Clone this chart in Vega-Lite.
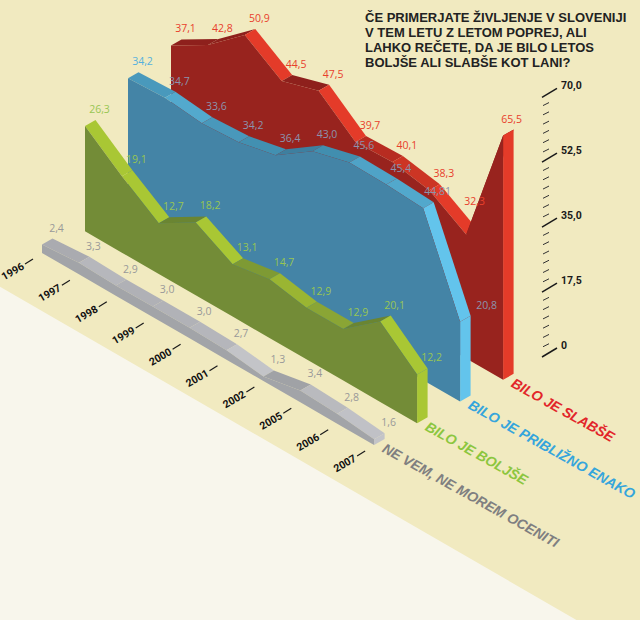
{
"$schema":"https://vega.github.io/schema/vega-lite/v6.json",
"width":640,"height":620,"padding":0,
"autosize":{"type":"fit","contains":"padding"},
"background":"#f1eac0",
"config":{"view":{"stroke":null}},
"datasets":{
"rows":[
{"series":"gray","s":0,"idx":0,"year":1996,"value":2.4,"label":"2,4"},{"series":"gray","s":0,"idx":1,"year":1997,"value":3.3,"label":"3,3"},{"series":"gray","s":0,"idx":2,"year":1998,"value":2.9,"label":"2,9"},{"series":"gray","s":0,"idx":3,"year":1999,"value":3.0,"label":"3,0"},{"series":"gray","s":0,"idx":4,"year":2000,"value":3.0,"label":"3,0"},{"series":"gray","s":0,"idx":5,"year":2001,"value":2.7,"label":"2,7"},{"series":"gray","s":0,"idx":6,"year":2002,"value":1.3,"label":"1,3"},{"series":"gray","s":0,"idx":7,"year":2005,"value":3.4,"label":"3,4"},{"series":"gray","s":0,"idx":8,"year":2006,"value":2.8,"label":"2,8"},{"series":"gray","s":0,"idx":9,"year":2007,"value":1.6,"label":"1,6"},
{"series":"green","s":1,"idx":0,"year":1996,"value":26.3,"label":"26,3"},{"series":"green","s":1,"idx":1,"year":1997,"value":19.1,"label":"19,1"},{"series":"green","s":1,"idx":2,"year":1998,"value":12.7,"label":"12,7"},{"series":"green","s":1,"idx":3,"year":1999,"value":18.2,"label":"18,2"},{"series":"green","s":1,"idx":4,"year":2000,"value":13.1,"label":"13,1"},{"series":"green","s":1,"idx":5,"year":2001,"value":14.7,"label":"14,7"},{"series":"green","s":1,"idx":6,"year":2002,"value":12.9,"label":"12,9"},{"series":"green","s":1,"idx":7,"year":2005,"value":12.9,"label":"12,9"},{"series":"green","s":1,"idx":8,"year":2006,"value":20.1,"label":"20,1"},{"series":"green","s":1,"idx":9,"year":2007,"value":12.2,"label":"12,2"},
{"series":"blue","s":2,"idx":0,"year":1996,"value":34.2,"label":"34,2"},{"series":"blue","s":2,"idx":1,"year":1997,"value":34.7,"label":"34,7"},{"series":"blue","s":2,"idx":2,"year":1998,"value":33.6,"label":"33,6"},{"series":"blue","s":2,"idx":3,"year":1999,"value":34.2,"label":"34,2"},{"series":"blue","s":2,"idx":4,"year":2000,"value":36.4,"label":"36,4"},{"series":"blue","s":2,"idx":5,"year":2001,"value":43.0,"label":"43,0"},{"series":"blue","s":2,"idx":6,"year":2002,"value":45.6,"label":"45,6"},{"series":"blue","s":2,"idx":7,"year":2005,"value":45.4,"label":"45,4"},{"series":"blue","s":2,"idx":8,"year":2006,"value":44.81,"label":"44,81"},{"series":"blue","s":2,"idx":9,"year":2007,"value":20.8,"label":"20,8"},
{"series":"red","s":3,"idx":0,"year":1996,"value":37.1,"label":"37,1"},{"series":"red","s":3,"idx":1,"year":1997,"value":42.8,"label":"42,8"},{"series":"red","s":3,"idx":2,"year":1998,"value":50.9,"label":"50,9"},{"series":"red","s":3,"idx":3,"year":1999,"value":44.5,"label":"44,5"},{"series":"red","s":3,"idx":4,"year":2000,"value":47.5,"label":"47,5"},{"series":"red","s":3,"idx":5,"year":2001,"value":39.7,"label":"39,7"},{"series":"red","s":3,"idx":6,"year":2002,"value":40.1,"label":"40,1"},{"series":"red","s":3,"idx":7,"year":2005,"value":38.3,"label":"38,3"},{"series":"red","s":3,"idx":8,"year":2006,"value":32.3,"label":"32,3"},{"series":"red","s":3,"idx":9,"year":2007,"value":65.5,"label":"65,5"}
]},
"data":{"name":"rows"},
"transform":[
{"window":[{"op":"lead","field":"value","as":"next"}],"groupby":["series"],"sort":[{"field":"idx","order":"ascending"}]},
{"calculate":"datum.s==1?4:datum.s==0?3.5:(datum.s==3&&datum.idx==9)?3.73:3.84","as":"k"},
{"calculate":"42+43*datum.s+36.9*datum.idx","as":"bx"},
{"calculate":"253-21.7*datum.s+21.33*datum.idx","as":"by"},
{"calculate":"datum.by-datum.k*datum.value","as":"py"},
{"calculate":"isValid(datum.next)?datum.bx+36.9:datum.bx","as":"nx"},
{"calculate":"isValid(datum.next)?datum.by+21.33-(datum.s==3&&datum.idx==8?3.73:datum.k)*datum.next:datum.by","as":"ny"},
{"calculate":"isValid(datum.next)?datum.next-datum.value:-datum.value","as":"d"},
{"calculate":"[0,1,2,3]","as":"c"},
{"flatten":["c"]},
{"calculate":"datum.c==0?datum.bx:datum.c==1?datum.bx+10.5:datum.c==2?datum.nx+10.5:datum.nx","as":"cx"},
{"calculate":"datum.c==0?datum.py:datum.c==1?datum.py-6:datum.c==2?datum.ny-6:datum.ny","as":"cy"}
],
"resolve":{"scale":{"fill":"independent","color":"independent"}},
"layer":[
{"data":{"values":[{"idx":0},{"idx":16.5}]},
 "transform":[{"calculate":"-11.75+36.9*datum.idx","as":"fx"},{"calculate":"280+21.33*datum.idx","as":"fy"}],
 "mark":{"type":"area","color":"#f8f6ec","clip":true},
 "encoding":{"x":{"field":"fx","type":"quantitative","scale":{"domain":[0,640],"nice":false,"zero":false},"axis":null},
 "y":{"field":"fy","type":"quantitative","scale":{"domain":[620,0],"nice":false,"zero":false},"axis":null,"stack":null},
 "y2":{"datum":620}}},

{"transform":[{"filter":"datum.s==3"}],
 "mark":{"type":"line","interpolate":"linear-closed","strokeWidth":0},
 "encoding":{"x":{"field":"cx","type":"quantitative"},"y":{"field":"cy","type":"quantitative"},"detail":{"field":"idx"},"order":{"field":"c"},
 "fill":{"field":"d","type":"quantitative","legend":null,"scale":{"clamp":true,"domain":[-6,-1.8,0.4,3],"range":["#e43b29","#cc3524","#b72c21","#8e201c"]}}}},
{"transform":[{"filter":"datum.s==3&&datum.c==0"}],
 "mark":{"type":"area","color":"#98231e"},
 "encoding":{"x":{"field":"bx","type":"quantitative"},"y":{"field":"py","type":"quantitative","stack":null},"y2":{"field":"by"}}},

{"transform":[{"filter":"datum.s==2"}],
 "mark":{"type":"line","interpolate":"linear-closed","strokeWidth":0},
 "encoding":{"x":{"field":"cx","type":"quantitative"},"y":{"field":"cy","type":"quantitative"},"detail":{"field":"idx"},"order":{"field":"c"},
 "fill":{"field":"d","type":"quantitative","legend":null,"scale":{"clamp":true,"domain":[-20,-0.5,0.5,2.4,6.6],"range":["#63c4ec","#52a8cc","#4999bc","#418fb0","#3e7f9f"]}}}},
{"transform":[{"filter":"datum.s==2&&datum.c==0"}],
 "mark":{"type":"area","color":"#4484a6"},
 "encoding":{"x":{"field":"bx","type":"quantitative"},"y":{"field":"py","type":"quantitative","stack":null},"y2":{"field":"by"}}},

{"transform":[{"filter":"datum.s==1"}],
 "mark":{"type":"line","interpolate":"linear-closed","strokeWidth":0},
 "encoding":{"x":{"field":"cx","type":"quantitative"},"y":{"field":"cy","type":"quantitative"},"detail":{"field":"idx"},"order":{"field":"c"},
 "fill":{"field":"d","type":"quantitative","legend":null,"scale":{"clamp":true,"domain":[-5,-1.8,0,1.6,5],"range":["#a9c734","#9ab532","#8aa535","#7e9a34","#6a8532"]}}}},
{"transform":[{"filter":"datum.s==1&&datum.c==0"}],
 "mark":{"type":"area","color":"#738c37"},
 "encoding":{"x":{"field":"bx","type":"quantitative"},"y":{"field":"py","type":"quantitative","stack":null},"y2":{"field":"by"}}},

{"transform":[{"filter":"datum.s==0"}],
 "mark":{"type":"line","interpolate":"linear-closed","strokeWidth":0},
 "encoding":{"x":{"field":"cx","type":"quantitative"},"y":{"field":"cy","type":"quantitative"},"detail":{"field":"idx"},"order":{"field":"c"},
 "fill":{"field":"d","type":"quantitative","legend":null,"scale":{"clamp":true,"domain":[-1.4,0,2.1],"range":["#c3c4c8","#b1b2b7","#a0a2a6"]}}}},
{"transform":[{"filter":"datum.s==0&&datum.c==0"}],
 "mark":{"type":"area","color":"#a2a4a8"},
 "encoding":{"x":{"field":"bx","type":"quantitative"},"y":{"field":"py","type":"quantitative","stack":null},"y2":{"field":"by"}}},

{"transform":[{"filter":"datum.c==0"},
 {"calculate":"datum.bx+14.5+(datum.s==2&&datum.idx==9?12:datum.s==3&&datum.idx==9?-6:datum.s==3&&datum.idx==8?-6:0)","as":"lx"},
 {"calculate":"datum.py-16+(datum.s==3&&datum.idx==8?-17:0)","as":"ly"}],
 "mark":{"type":"text","font":"Open Sans","fontSize":10.5,"align":"center","baseline":"middle"},
 "encoding":{"x":{"field":"lx","type":"quantitative"},"y":{"field":"ly","type":"quantitative"},"text":{"field":"label"},
 "color":{"condition":{"test":"datum.series=='blue'&&datum.idx==0","value":"#55b1de"},"field":"series","type":"nominal","legend":null,"scale":{"domain":["gray","green","blue","red"],"range":["#999999","#98c653","#8c93ad","#e8402c"]}}}},

{"transform":[{"filter":"datum.c==0&&datum.idx==9"},
 {"calculate":"{gray:'NE VEM, NE MOREM OCENITI',green:'BILO JE BOLJŠE',blue:'BILO JE PRIBLIŽNO ENAKO',red:'BILO JE SLABŠE'}[datum.series]","as":"name"},
 {"calculate":"datum.bx+9","as":"nlx"},{"calculate":"datum.by+3","as":"nly"}],
 "mark":{"type":"text","font":"Liberation Sans","fontWeight":"bold","fontStyle":"italic","fontSize":14,"align":"left","baseline":"middle","angle":29},
 "encoding":{"x":{"field":"nlx","type":"quantitative"},"y":{"field":"nly","type":"quantitative"},"text":{"field":"name"},
 "color":{"field":"series","type":"nominal","legend":null,"scale":{"domain":["gray","green","blue","red"],"range":["#7f7f80","#8cc63f","#35a5dc","#e2262a"]}}}},

{"transform":[{"filter":"datum.c==0&&datum.s==0"},{"calculate":"25+36.9*datum.idx","as":"tx"},{"calculate":"33+36.9*datum.idx","as":"tx2"},{"calculate":"264+21.33*datum.idx","as":"ty"},{"calculate":"259+21.33*datum.idx","as":"ty2"}],
 "mark":{"type":"rule","color":"#1a1a1a","strokeWidth":1.2},
 "encoding":{"x":{"field":"tx","type":"quantitative"},"x2":{"field":"tx2"},"y":{"field":"ty","type":"quantitative"},"y2":{"field":"ty2"}}},
{"transform":[{"filter":"datum.c==0&&datum.s==0"},{"calculate":"13+36.9*datum.idx","as":"yx"},{"calculate":"272+21.33*datum.idx","as":"yy"}],
 "mark":{"type":"text","font":"Roboto","fontWeight":"bold","fontSize":10.5,"align":"center","baseline":"middle","angle":-30,"color":"#111111"},
 "encoding":{"x":{"field":"yx","type":"quantitative"},"y":{"field":"yy","type":"quantitative"},"text":{"field":"year","type":"nominal"}}},

{"data":{"values":[{"v":0,"t":"0"},{"v":2.5},{"v":5},{"v":7.5},{"v":10},{"v":12.5},{"v":15},{"v":17.5,"t":"17,5"},{"v":20},{"v":22.5},{"v":25},{"v":27.5},{"v":30},{"v":32.5},{"v":35,"t":"35,0"},{"v":37.5},{"v":40},{"v":42.5},{"v":45},{"v":47.5},{"v":50},{"v":52.5,"t":"52,5"},{"v":55},{"v":57.5},{"v":60},{"v":62.5},{"v":65},{"v":67.5},{"v":70,"t":"70,0"}]},
 "layer":[
 {"transform":[{"filter":"!isValid(datum.t)"},{"calculate":"356-3.71*datum.v","as":"a"},{"calculate":"353-3.71*datum.v","as":"b"},{"calculate":"543","as":"xa"},{"calculate":"549","as":"xb"}],
  "mark":{"type":"rule","color":"#333333","strokeWidth":1},
  "encoding":{"x":{"field":"xa","type":"quantitative"},"x2":{"field":"xb"},"y":{"field":"a","type":"quantitative"},"y2":{"field":"b"}}},
 {"transform":[{"filter":"isValid(datum.t)"},{"calculate":"357-3.71*datum.v","as":"a"},{"calculate":"348-3.71*datum.v","as":"b"},{"calculate":"542","as":"xa"},{"calculate":"557","as":"xb"}],
  "mark":{"type":"rule","color":"#1a1a1a","strokeWidth":1.5},
  "encoding":{"x":{"field":"xa","type":"quantitative"},"x2":{"field":"xb"},"y":{"field":"a","type":"quantitative"},"y2":{"field":"b"}}},
 {"transform":[{"filter":"isValid(datum.t)"},{"calculate":"346-3.71*datum.v","as":"a"},{"calculate":"561","as":"xa"}],
  "mark":{"type":"text","font":"Roboto","fontWeight":"bold","fontSize":10.5,"align":"left","baseline":"middle","color":"#1a1a1a"},
  "encoding":{"x":{"field":"xa","type":"quantitative"},"y":{"field":"a","type":"quantitative"},"text":{"field":"t"}}}
 ]},

{"data":{"values":[{"line":0,"t":"ČE PRIMERJATE ŽIVLJENJE V SLOVENIJI"},{"line":1,"t":"V TEM LETU Z LETOM POPREJ, ALI"},{"line":2,"t":"LAHKO REČETE, DA JE BILO LETOS"},{"line":3,"t":"BOLJŠE ALI SLABŠE KOT LANI?"}]},
 "transform":[{"calculate":"18+15*datum.line","as":"ty"},{"calculate":"365","as":"tx"}],
 "mark":{"type":"text","font":"Liberation Sans","fontWeight":"bold","fontSize":13,"align":"left","baseline":"middle","color":"#222222"},
 "encoding":{"x":{"field":"tx","type":"quantitative"},"y":{"field":"ty","type":"quantitative"},"text":{"field":"t"}}}
]
}
